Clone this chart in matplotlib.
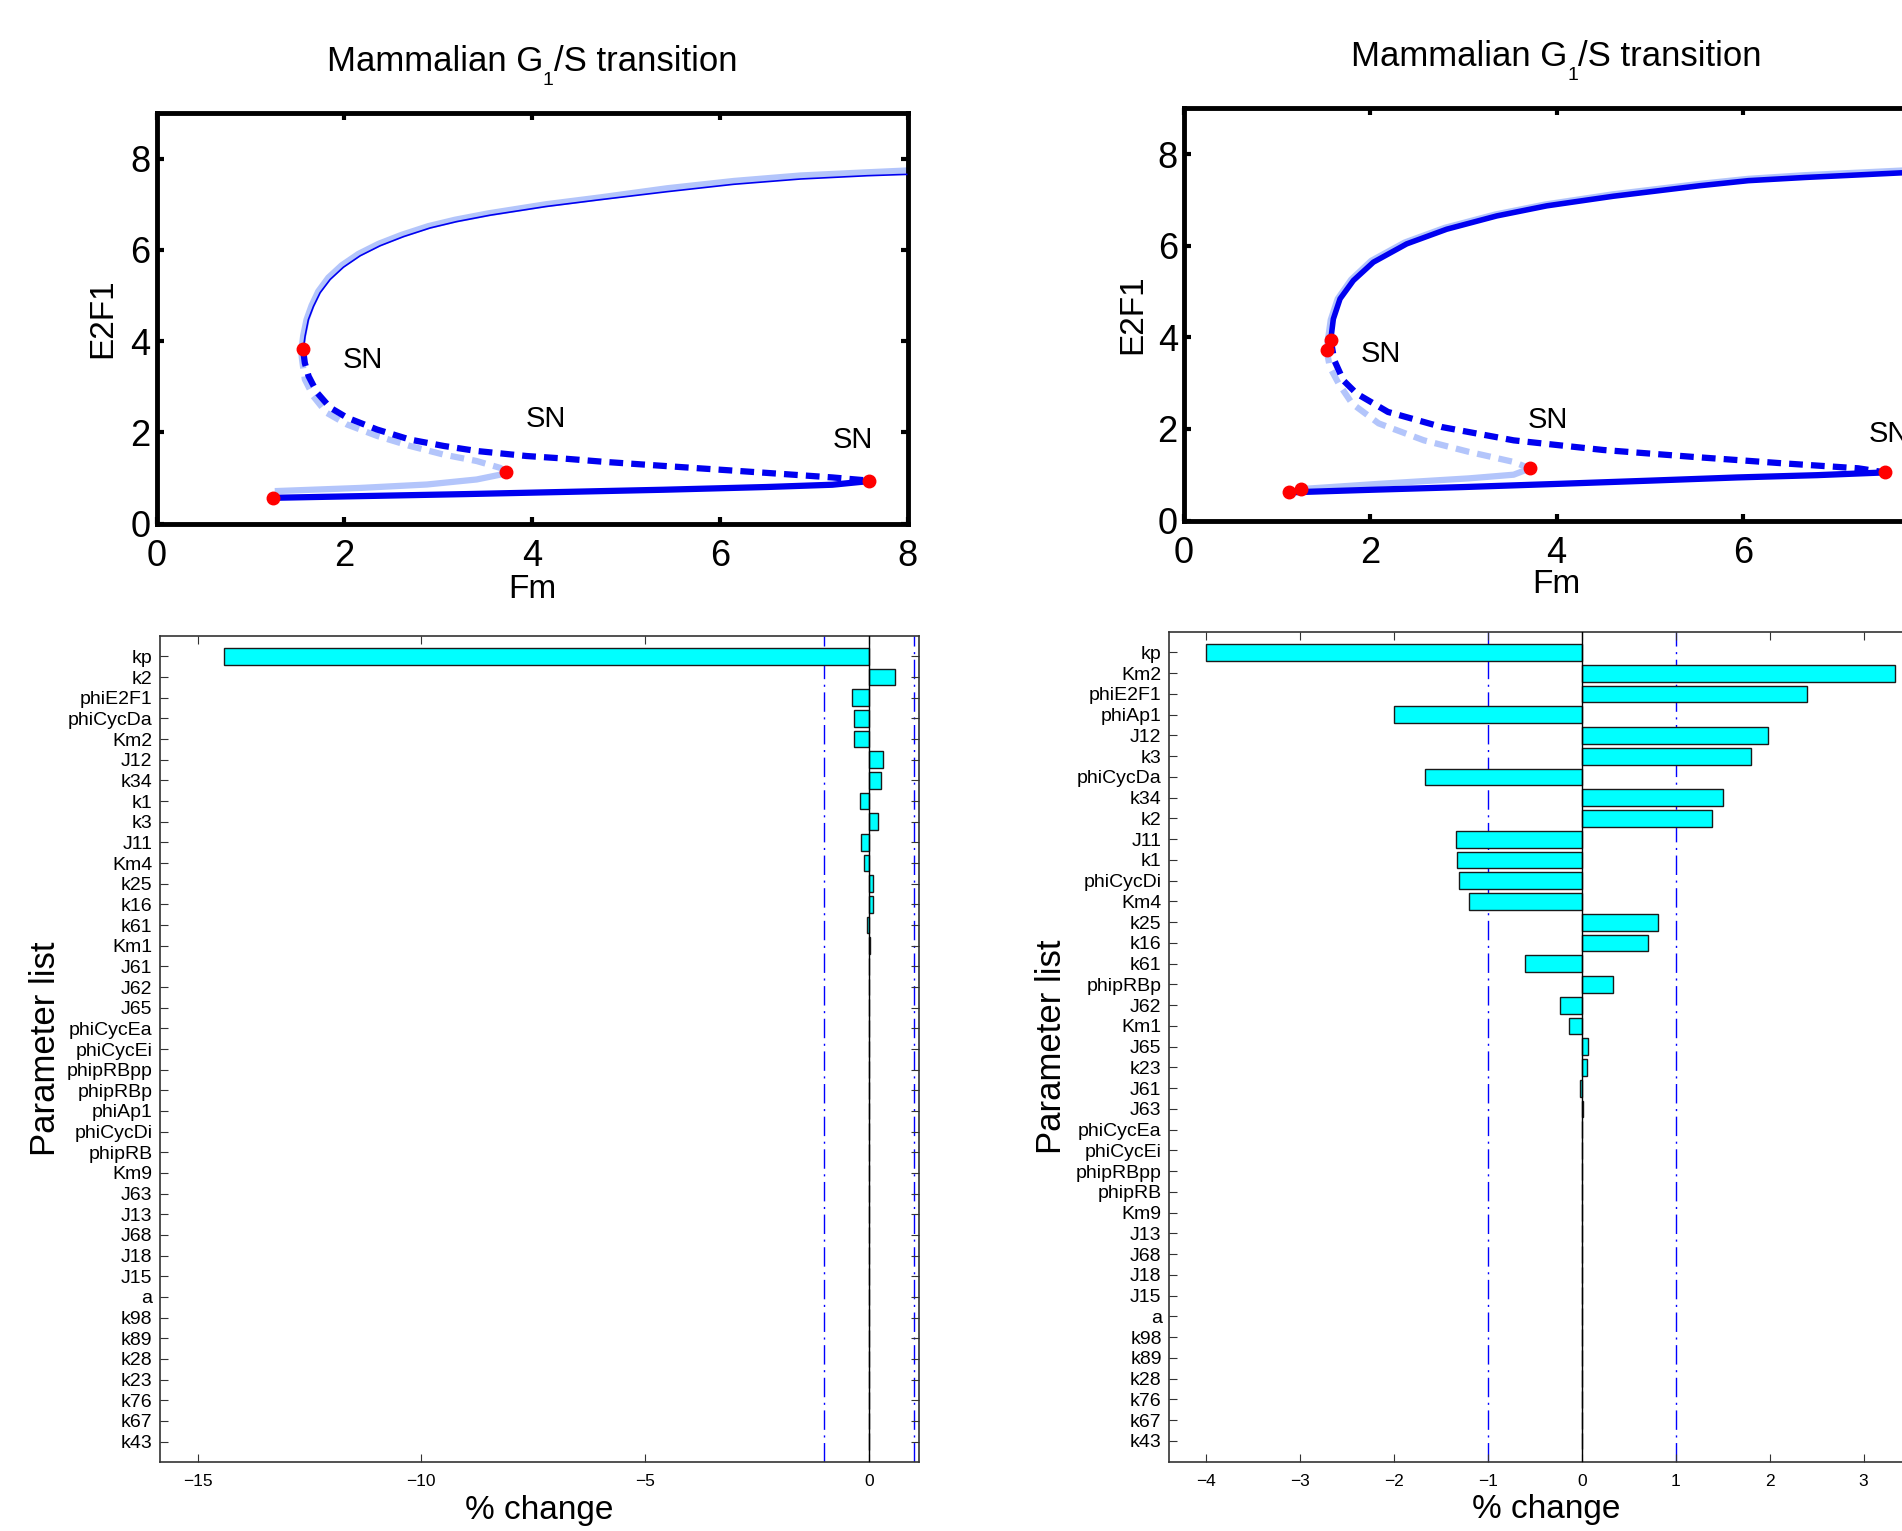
import numpy as np
import matplotlib
matplotlib.use("Agg")
import matplotlib.pyplot as plt

plt.rcParams['font.family'] = ['Liberation Sans', 'DejaVu Sans']

# ---- bifurcation diagrams (E2F1 vs Fm) ----
# left panel
tl_up_dark_x = [1.565, 1.583, 1.618, 1.672, 1.743, 1.850, 1.992, 2.170, 2.383, 2.632, 2.916, 3.200,
                3.555, 4.15, 4.728, 5.439, 6.149, 6.860, 7.571, 8.0]
tl_up_dark_y = [3.84, 4.11, 4.47, 4.76, 5.06, 5.35, 5.62, 5.87, 6.09, 6.29, 6.48, 6.62,
                6.76, 6.95, 7.10, 7.275, 7.437, 7.553, 7.625, 7.655]
tl_up_light_x = [1.545, 1.545, 1.562, 1.598, 1.652, 1.723, 1.83, 1.972, 2.15, 2.363, 2.612, 2.896, 3.18,
                 3.535, 4.15, 4.728, 5.439, 6.149, 6.860, 7.571, 8.0]
tl_up_light_y = [3.70, 3.84, 4.11, 4.47, 4.78, 5.09, 5.39, 5.66, 5.91, 6.13, 6.33, 6.52, 6.66,
                 6.80, 7.00, 7.15, 7.35, 7.51, 7.63, 7.70, 7.74]
tl_mid_dark_x = [1.565, 1.58, 1.62, 1.71, 1.85, 2.03, 2.35, 2.70, 3.06, 3.41, 3.94, 4.30, 4.78, 5.42, 6.07, 6.71, 7.2, 7.59]
tl_mid_dark_y = [3.75, 3.52, 3.23, 2.87, 2.54, 2.32, 2.06, 1.84, 1.70, 1.59, 1.48, 1.43, 1.35, 1.26, 1.17, 1.08, 1.01, 0.94]
tl_mid_light_x = [1.545, 1.55, 1.58, 1.67, 1.81, 2.03, 2.35, 2.70, 3.06, 3.41, 3.66, 3.72]
tl_mid_light_y = [3.70, 3.60, 3.16, 2.79, 2.43, 2.17, 1.92, 1.70, 1.51, 1.37, 1.22, 1.14]
tl_low_dark_x = [1.244, 2.17, 3.3, 4.3, 5.4, 6.5, 7.2, 7.59]
tl_low_dark_y = [0.563, 0.60, 0.645, 0.69, 0.74, 0.80, 0.85, 0.93]
tl_low_light_x = [1.26, 2.17, 2.88, 3.41, 3.66, 3.72]
tl_low_light_y = [0.71, 0.78, 0.855, 0.965, 1.07, 1.14]
tl_sn_x = [1.244, 1.565, 3.724, 7.59]
tl_sn_y = [0.563, 3.83, 1.14, 0.94]
tl_label_x = [1.985, 3.93, 7.20]
tl_label_y = [3.42, 2.12, 1.66]

# right panel
tr_up_dark_x = [1.575, 1.603, 1.675, 1.818, 2.033, 2.391, 2.821, 3.358, 3.895, 4.61, 5.541, 6.06, 6.67, 7.29, 8.0]
tr_up_dark_y = [3.94, 4.40, 4.84, 5.24, 5.64, 6.04, 6.36, 6.65, 6.87, 7.08, 7.31, 7.42, 7.49, 7.55, 7.62]
tr_up_light_x = [1.53, 1.575, 1.65, 1.795, 2.01, 2.37, 2.80, 3.34, 3.88, 4.60, 5.54, 6.06, 6.67, 7.29, 8.0]
tr_up_light_y = [3.73, 4.38, 4.84, 5.26, 5.67, 6.07, 6.39, 6.68, 6.90, 7.12, 7.35, 7.46, 7.54, 7.60, 7.67]
tr_mid_dark_x = [1.575, 1.613, 1.71, 1.854, 2.19, 2.77, 3.54, 4.50, 5.46, 6.42, 7.24, 7.53]
tr_mid_dark_y = [3.94, 3.50, 3.06, 2.77, 2.37, 2.04, 1.75, 1.54, 1.39, 1.25, 1.14, 1.05]
tr_mid_light_x = [1.53, 1.565, 1.66, 1.806, 2.09, 2.576, 3.056, 3.537, 3.715]
tr_mid_light_y = [3.73, 3.35, 2.99, 2.55, 2.12, 1.75, 1.50, 1.28, 1.137]
tr_low_dark_x = [1.132, 2.0, 3.0, 4.02, 5.0, 5.94, 6.8, 7.53]
tr_low_dark_y = [0.614, 0.67, 0.73, 0.80, 0.87, 0.94, 0.99, 1.05]
tr_low_light_x = [1.252, 2.09, 3.06, 3.54, 3.715]
tr_low_light_y = [0.686, 0.80, 0.92, 1.0, 1.137]
tr_sn_x = [1.132, 1.252, 1.575, 1.53, 3.715, 7.53]
tr_sn_y = [0.614, 0.686, 3.94, 3.73, 1.137, 1.05]
tr_label_x = [1.90, 3.69, 7.35]
tr_label_y = [3.45, 2.01, 1.72]

# ---- sensitivity bars ----
params_left = ['kp', 'k2', 'phiE2F1', 'phiCycDa', 'Km2', 'J12', 'k34', 'k1', 'k3', 'J11', 'Km4',
               'k25', 'k16', 'k61', 'Km1', 'J61', 'J62', 'J65', 'phiCycEa', 'phiCycEi', 'phipRBpp',
               'phipRBp', 'phiAp1', 'phiCycDi', 'phipRB', 'Km9', 'J63', 'J13', 'J68', 'J18', 'J15',
               'a', 'k98', 'k89', 'k28', 'k23', 'k76', 'k67', 'k43']
change_left = [-14.40, 0.58, -0.39, -0.33, -0.33, 0.31, 0.26, -0.20, 0.20, -0.18, -0.12,
               0.08, 0.08, -0.05, 0.02, 0.01, 0.01, -0.005, 0, 0, 0,
               0, 0, 0, 0, 0, 0, 0, 0, 0, 0,
               0, 0, 0, 0, 0, 0, 0, 0]

params_right = ['kp', 'Km2', 'phiE2F1', 'phiAp1', 'J12', 'k3', 'phiCycDa', 'k34', 'k2', 'J11', 'k1',
                'phiCycDi', 'Km4', 'k25', 'k16', 'k61', 'phipRBp', 'J62', 'Km1', 'J65', 'k23',
                'J61', 'J63', 'phiCycEa', 'phiCycEi', 'phipRBpp', 'phipRB', 'Km9', 'J13', 'J68', 'J18',
                'J15', 'a', 'k98', 'k89', 'k28', 'k76', 'k67', 'k43']
change_right = [-4.00, 3.33, 2.40, -2.00, 1.98, 1.80, -1.67, 1.50, 1.39, -1.34, -1.33,
                -1.31, -1.20, 0.81, 0.70, -0.60, 0.33, -0.23, -0.14, 0.07, 0.06,
                -0.02, 0.01, 0, 0, 0, 0, 0, 0, 0, 0,
                0, 0, 0, 0, 0, 0, 0, 0]

dark = '#0000f0'
light = '#b3c5fb'
W, H = 1902, 1531

fig = plt.figure(figsize=(W / 100, H / 100), dpi=100)
renderer = fig.canvas.get_renderer()


def box(l, t, r, b):
    return [l / W, 1 - b / H, (r - l) / W, (b - t) / H]


def title(center_px, baseline_px):
    # title with the G1 subscript dropped below the baseline, as in the original
    parts = [('Mammalian G', 25, 'baseline', baseline_px),
             ('1', 14, 'top', baseline_px + 1.5),
             ('/S transition', 25, 'baseline', baseline_px)]
    widths = []
    for s, fs, va, y in parts:
        t = fig.text(0, 0, s, fontsize=fs)
        widths.append(t.get_window_extent(renderer).width)
        t.remove()
    x = center_px - sum(widths) / 2
    for (s, fs, va, y), w in zip(parts, widths):
        fig.text(x / W, 1 - y / H, s, fontsize=fs, ha='left', va=va)
        x += w


def bifurcation(ax, up_d, up_l, mid_d, mid_l, low_d, low_l, sn, lab, up_dark_lw):
    ax.plot(*up_l, color=light, lw=4.5, solid_capstyle='butt', zorder=2)
    ax.plot(*low_l, color=light, lw=4.5, solid_capstyle='butt', zorder=2)
    ax.plot(*mid_l, color=light, lw=4.5, ls=(0, (2.2, 1.3)), zorder=2)
    ax.plot(*up_d, color=dark, lw=up_dark_lw, solid_capstyle='butt', zorder=3)
    ax.plot(*low_d, color=dark, lw=4.5, solid_capstyle='butt', zorder=3)
    ax.plot(*mid_d, color=dark, lw=4.5, ls=(0, (2.2, 1.3)), zorder=3)
    ax.plot(*sn, 'o', color='red', ms=9, mec='red', ls='none', zorder=4)
    for x, y in zip(*lab):
        ax.text(x, y, 'SN', fontsize=21, ha='left', va='baseline')
    ax.set_xlim(0, 8)
    ax.set_ylim(0, 9)
    ax.set_xticks([0, 2, 4, 6, 8])
    ax.set_yticks([0, 2, 4, 6, 8])
    for s in ax.spines.values():
        s.set_linewidth(3.5)
    ax.tick_params(direction='in', length=5, width=3, top=True, right=True, labelsize=26)
    ax.tick_params(axis='x', pad=11)
    ax.tick_params(axis='y', pad=4.5)
    ax.set_xlabel('Fm', fontsize=24)
    ax.set_ylabel('E2F1', fontsize=24)


ax1 = fig.add_axes(box(156.5, 113, 907.5, 523.5))
bifurcation(ax1, (tl_up_dark_x, tl_up_dark_y), (tl_up_light_x, tl_up_light_y),
            (tl_mid_dark_x, tl_mid_dark_y), (tl_mid_light_x, tl_mid_light_y),
            (tl_low_dark_x, tl_low_dark_y), (tl_low_light_x, tl_low_light_y),
            (tl_sn_x, tl_sn_y), (tl_label_x, tl_label_y), 1.2)
title(532, 70.8)
ax1.xaxis.set_label_coords(0.5, -0.123)
ax1.yaxis.set_label_coords(-0.0503, 0.5)

ax2 = fig.add_axes(box(1184.1, 108.3, 1928.9, 520.5))
bifurcation(ax2, (tr_up_dark_x, tr_up_dark_y), (tr_up_light_x, tr_up_light_y),
            (tr_mid_dark_x, tr_mid_dark_y), (tr_mid_light_x, tr_mid_light_y),
            (tr_low_dark_x, tr_low_dark_y), (tr_low_light_x, tr_low_light_y),
            (tr_sn_x, tr_sn_y), (tr_label_x, tr_label_y), 4.0)
title(1556.5, 65.5)
ax2.xaxis.set_label_coords(0.5, -0.118)
ax2.yaxis.set_label_coords(-0.0485, 0.5)

dashdot = (0, (14, 4, 1.5, 4))


def sensitivity(ax, names, vals, xlim, xticks):
    pos = np.arange(1, len(names) + 1)
    ax.barh(pos, vals, height=0.8, color='cyan', edgecolor='#1a1a1a', linewidth=1, zorder=2)
    ax.axvline(0, color='k', lw=1, zorder=3)
    ax.axvline(-1, color='b', lw=1, ls=dashdot, zorder=1)
    ax.axvline(1, color='b', lw=1, ls=dashdot, zorder=1)
    ax.set_yticks(pos, names)
    ax.set_ylim(40, 0)
    ax.set_xlim(*xlim)
    ax.set_xticks(xticks)
    for s in ax.spines.values():
        s.set_linewidth(1.2)
        s.set_color('#333333')
    ax.tick_params(direction='in', length=5.5, width=0.8, top=True, right=True, color='#333333')
    ax.tick_params(axis='y', labelsize=14, pad=5)
    ax.tick_params(axis='x', labelsize=12.5, pad=8.5)
    ax.set_xlabel('% change', fontsize=24)
    ax.set_ylabel('Parameter list', fontsize=25)


ax3 = fig.add_axes(box(159.5, 635.7, 918.7, 1462.3))
sensitivity(ax3, params_left, change_left, (-15.85, 1.11), [-15, -10, -5, 0])
ax3.xaxis.set_label_coords(0.5, -0.039)
ax3.yaxis.set_label_coords(-0.129, 0.5)

ax4 = fig.add_axes(box(1168.6, 631.7, 1924.6, 1461.7))
sensitivity(ax4, params_right, change_right, (-4.40, 3.65), [-4, -3, -2, -1, 0, 1, 2, 3])
ax4.xaxis.set_label_coords(0.5, -0.039)
ax4.yaxis.set_label_coords(-0.1325, 0.5)

fig.savefig('out.png', dpi=100)
